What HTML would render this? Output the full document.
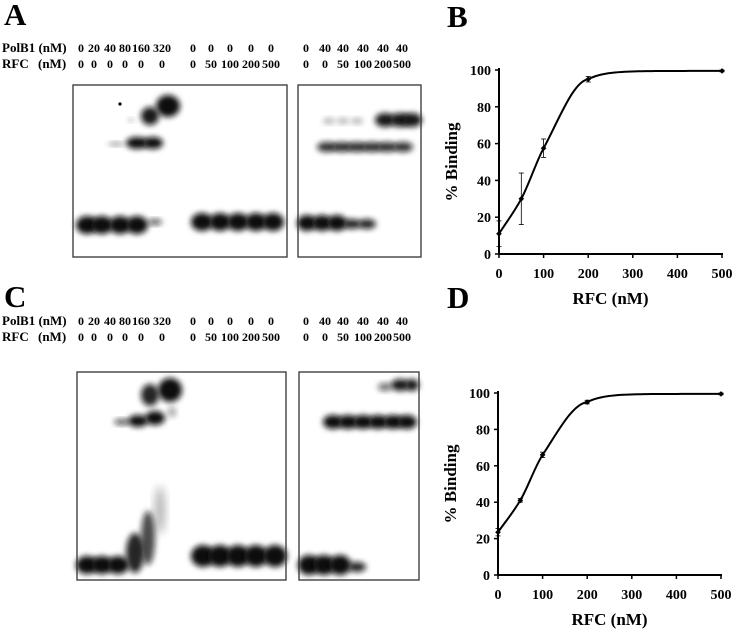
<!DOCTYPE html>
<html><head><meta charset="utf-8"><style>
html,body{margin:0;padding:0;background:#fff;}
svg{display:block;font-family:"Liberation Serif",serif;font-weight:bold;}
</style></head><body>
<svg id="fig" width="733" height="630" viewBox="0 0 733 630">
<defs>
<filter id="blur" x="-50%" y="-50%" width="200%" height="200%"><feGaussianBlur stdDeviation="3"/></filter>
<filter id="blur2" x="-50%" y="-50%" width="200%" height="200%"><feGaussianBlur stdDeviation="4.5"/></filter>
</defs>
<g id="gels"></g>
<g id="chartB"></g>
<g id="chartD"></g>
</svg>
<script>
const NS="http://www.w3.org/2000/svg";
// chart data
const rfcX=[0,50,100,200,500];
const bindingB=[11,30,57.5,95,99.5];
const errB=[7,14,5,1.5,0.5];
const bindingD=[23.5,41,66,95,99.5];
const errD=[2,1,1.5,1,0.5];
const xTicks=[0,100,200,300,400,500];
const yTicks=[0,20,40,60,80,100];
const polLabels=["0","20","40","80","160","320","0","0","0","0","0","0","40","40","40","40","40"];
const rfcLabels=["0","0","0","0","0","0","0","50","100","200","500","0","0","50","100","200","500"];

function mk(tag,attrs,parent,name){const e=document.createElementNS(NS,tag);for(const k in attrs)e.setAttribute(k,attrs[k]);


parent.appendChild(e);return e;}
function txt(s,x,y,size,parent,name,anchor){const t=mk('text',{x:x,y:y,'font-size':size,'text-anchor':anchor||'middle'},parent,name);t.textContent=s;return t;}

const gels=document.getElementById('gels');
const labelX=[81,94,110,125,141,162,193,211,230,251,271,306,325,343,363,383,402];
function gelPanel(letter,ly,rowY){
  txt(letter,4,ly,31,gels,'panel-letter-'+letter.toLowerCase(),'start');
  txt("PolB1 (nM)",2,rowY,13,gels,'polb1-row-label','start');
  txt("RFC",2,rowY+16,13,gels,'rfc-row-label','start');
  txt("(nM)",38,rowY+16,13,gels,'rfc-unit-label','start');
  for(let i=0;i<polLabels.length;i++){
    txt(polLabels[i],labelX[i],rowY,12,gels,'polb1-lane-label');
    txt(rfcLabels[i],labelX[i],rowY+16,12,gels,'rfc-lane-label');
  }
}
gelPanel("A",25,52);
gelPanel("C",307,325);

function band(x,y,rx,ry,op,f){mk('ellipse',{cx:x,cy:y,rx:rx,ry:ry,fill:'#111','fill-opacity':op,filter:'url(#'+(f||'blur')+')'},gels,'gel-band');}
function box(x,y,w,h){mk('rect',{x:x,y:y,width:w,height:h,fill:'none',stroke:'#333','stroke-width':1.3},gels,'gel-box');}

// Gel A left
[87,102,120,137].forEach(x=>band(x,225,11,9,1));
band(155,222,7,3,0.7);
[202,220,238,256,273].forEach(x=>band(x,222,11,9,1));
band(116,144,8,2,0.4);band(137,143,11,6,1);band(153,143,10,6,1);
band(150,116,9,9,0.95);band(168,106,12,11,1);band(131,120,3,2,0.3);
mk('circle',{cx:120,cy:104,r:1.6,fill:'#000'},gels,'gel-speck');
box(73,85,214,172);
// Gel A right
[307,322,337].forEach(x=>band(x,223,10,8,1));[352,367].forEach(x=>band(x,224,9,5,0.9));
[327,342,357,372,387,403].forEach(x=>band(x,147,10,5,0.85));
[329,343,357].forEach(x=>band(x,121,6,3,0.3));[385,400,412].forEach(x=>band(x,120,10,7,0.95));
box(298,85,123,172);

// Gel C left
[87,102,118].forEach(x=>band(x,565,11,9,1));
band(135,553,9,20,0.9);band(148,538,7,27,0.75);band(160,510,5,24,0.3,'blur2');
[203,220,238,256,275].forEach(x=>band(x,556,12,11,1));
band(122,422,8,3,0.7);band(138,421,10,6,1);band(155,418,10,7,1);band(150,395,9,11,0.9);band(170,390,12,12,1);band(172,412,4,5,0.4);
box(77,372,209,208);
// Gel C right
[309,324,340].forEach(x=>band(x,565,11,10,1));band(357,567,9,5,0.9);
[333,348,363,378,393,407].forEach(x=>band(x,422,10,7,1));
band(385,387,7,4,0.6);band(400,385,9,6,0.95);band(412,385,7,6,0.95);
box(299,372,120,208);

function chart(gid,letter,ly,ys,errs,x0,x1,y0,y100){
  const g=document.getElementById(gid);
  const sx=v=>x0+(x1-x0)*v/500, sy=v=>y0+(y100-y0)*v/100;
  txt(letter,447,ly,31,g,'panel-letter-'+letter.toLowerCase(),'start');
  mk('line',{x1:x0,y1:y0,x2:x0,y2:y100-2,stroke:'#000','stroke-width':2},g,'y-axis');
  mk('line',{x1:x0,y1:y0,x2:x1+1,y2:y0,stroke:'#000','stroke-width':2},g,'x-axis');
  yTicks.forEach(v=>{mk('line',{x1:x0-4,y1:sy(v),x2:x0,y2:sy(v),stroke:'#000','stroke-width':1.5},g,'y-tick');
    txt(String(v),x0-8,sy(v)+5,14,g,'y-tick-label','end');});
  xTicks.forEach(v=>{mk('line',{x1:sx(v),y1:y0,x2:sx(v),y2:y0+4,stroke:'#000','stroke-width':1.5},g,'x-tick');
    txt(String(v),sx(v),y0+24,14,g,'x-tick-label');});
  const t=txt("% Binding",0,0,17,g,'y-axis-title');t.setAttribute('transform','translate('+(x0-42)+','+(y0+y100)/2+') rotate(-90)');
  txt("RFC (nM)",(x0+x1)/2,y0+50,17,g,'x-axis-title');
  const px=rfcX.map(sx),py=ys.map(sy),n=px.length;
  const d=[],m=[];for(let i=0;i<n-1;i++)d.push((py[i+1]-py[i])/(px[i+1]-px[i]));
  m[0]=d[0];for(let i=1;i<n-1;i++)m[i]=(d[i-1]*d[i]<=0)?0:2/(1/d[i-1]+1/d[i]);
  let p="M"+px[0]+","+py[0];
  for(let i=0;i<n-2;i++){const h=px[i+1]-px[i];
    p+=" C"+(px[i]+h/3)+","+(py[i]+m[i]*h/3)+" "+(px[i+1]-h/3)+","+(py[i+1]-m[i+1]*h/3)+" "+px[i+1]+","+py[i+1];}
  const a=n-2,b=n-1,k=(px[b]-px[a])*0.12;
  for(let s=1;s<=40;s++){const x=px[a]+(px[b]-px[a])*s/40;
    const f=(1-Math.exp(-(x-px[a])/k))/(1-Math.exp(-(px[b]-px[a])/k));
    p+=" L"+x.toFixed(2)+","+(py[a]+(py[b]-py[a])*f).toFixed(2);}
  mk('path',{d:p,fill:'none',stroke:'#000','stroke-width':2},g,'binding-curve');
  for(let i=0;i<n;i++){
    const ya=sy(ys[i]+errs[i]),yb=sy(Math.max(0,ys[i]-errs[i]));
    mk('line',{x1:px[i],y1:ya,x2:px[i],y2:yb,stroke:'#000','stroke-width':0.8},g,'error-bar');
    mk('line',{x1:px[i]-2.5,y1:ya,x2:px[i]+2.5,y2:ya,stroke:'#000','stroke-width':0.8},g,'error-cap');
    mk('line',{x1:px[i]-2.5,y1:yb,x2:px[i]+2.5,y2:yb,stroke:'#000','stroke-width':0.8},g,'error-cap');
    mk('rect',{x:px[i]-2,y:py[i]-2,width:4,height:4,fill:'#000',transform:'rotate(45 '+px[i]+' '+py[i]+')'},g,'data-point');
  }
}
chart('chartB','B',27,bindingB,errB,499,722,254,70);
chart('chartD','D',308,bindingD,errD,498,721,575,393);
</script>
</body></html>
